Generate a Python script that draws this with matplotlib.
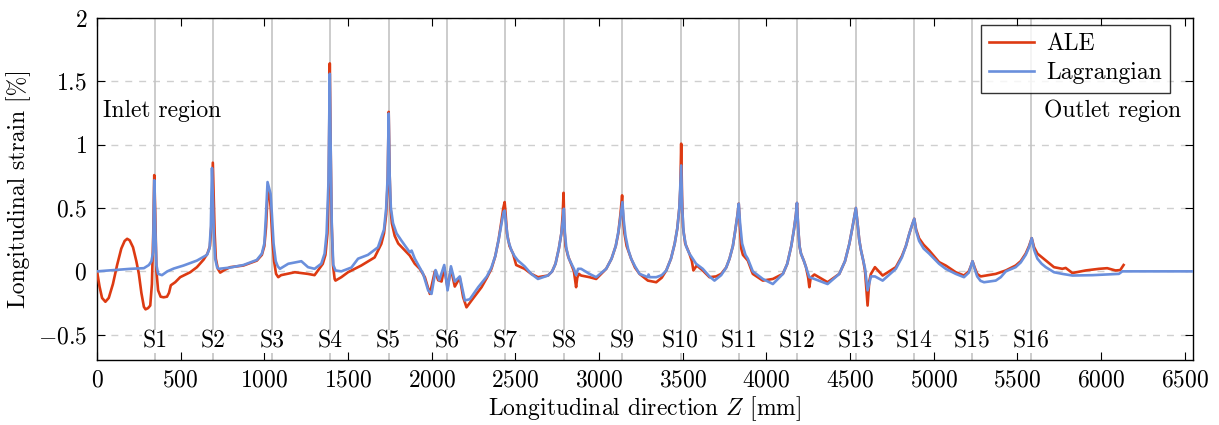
import matplotlib
matplotlib.use("Agg")
import matplotlib.pyplot as plt
from matplotlib.ticker import FuncFormatter, MultipleLocator

# ---------------- DATA ---------------- #
# ALE curve, grouped by support region
ale_z = [0, 15, 30, 50, 70, 95, 120, 145, 165, 180, 195, 215, 235, 250, 265, 280, 290, 305, 318, 328,
         336, 342, 348, 355, 365, 380, 398, 418, 430, 441,
         467, 497, 557, 597, 637, 660, 675, 685, 692, 697, 703, 710, 722, 736,
         760, 796, 875, 955, 985, 1000, 1010, 1017, 1021, 1030, 1038, 1048, 1058, 1070, 1083, 1100,
         1182, 1260, 1300, 1349, 1365, 1377, 1385, 1391, 1396, 1402, 1410, 1420, 1425, 1460, 1500,
         1579, 1659, 1699, 1715, 1728, 1737, 1743, 1748, 1754, 1762, 1779, 1800, 1829, 1869, 1899,
         1929, 1959, 1989,
         2019, 2039, 2059, 2075, 2095, 2115, 2138, 2168, 2188, 2208, 2238, 2298,
         2330, 2357, 2380, 2400, 2415, 2428, 2436, 2442, 2450, 2465, 2486, 2505, 2555, 2595, 2635, 2695,
         2720, 2740, 2760, 2775, 2783, 2788, 2793, 2800, 2815, 2833, 2850, 2858, 2863, 2870, 2880,
         2893, 2943, 2983, 3043,
         3075, 3100, 3115, 3128, 3138, 3145, 3152, 3165, 3192, 3215, 3242, 3270, 3292, 3342, 3375,
         3402, 3430, 3452, 3468, 3480, 3486, 3491, 3496, 3502, 3515, 3540, 3555, 3564, 3584, 3620,
         3660, 3700, 3730,
         3760, 3780, 3800, 3815, 3828, 3835, 3842, 3850, 3860, 3889, 3919, 3979, 4039, 4099,
         4125, 4149, 4165, 4177, 4183, 4190, 4198, 4207, 4225, 4237, 4250, 4257, 4265, 4287, 4366, 4436,
         4470, 4496, 4515, 4528, 4535, 4545, 4555, 4565, 4580, 4590, 4605, 4615, 4625, 4649, 4695, 4774,
         4810, 4834, 4855, 4872, 4884, 4895, 4913, 4940, 4973, 5032, 5072, 5132, 5181,
         5210, 5225, 5232, 5245, 5260, 5281, 5371, 5431, 5490, 5520, 5550, 5570, 5586, 5600, 5620,
         5670, 5719, 5769, 5789, 5829, 5908, 5988, 6037, 6087, 6115, 6135]
ale_strain = [0.0, -0.12, -0.21, -0.24, -0.21, -0.1, 0.05, 0.18, 0.24, 0.257, 0.245, 0.19, 0.08, -0.02,
              -0.17, -0.28, -0.3, -0.29, -0.27, -0.1, 0.3, 0.76, 0.45, 0.0, -0.15, -0.2, -0.205, -0.2,
              -0.17, -0.11,
              -0.086, -0.046, -0.007, 0.033, 0.093, 0.14, 0.2, 0.4, 0.858, 0.6, 0.3, 0.1, 0.02, -0.01,
              0.01, 0.033, 0.046, 0.085, 0.13, 0.2, 0.35, 0.55, 0.66, 0.62, 0.5, 0.25, 0.08, -0.02,
              -0.046, -0.03,
              -0.007, -0.02, -0.03, 0.059, 0.13, 0.3, 0.7, 1.642, 1.0, 0.4, 0.05, -0.06, -0.073, -0.046,
              -0.007,
              0.046, 0.11, 0.217, 0.3, 0.45, 0.7, 1.259, 0.8, 0.5, 0.38, 0.28, 0.22, 0.18, 0.125, 0.06,
              0.02, -0.046, -0.178,
              0.0, -0.07, -0.08, 0.03, -0.13, 0.02, -0.12, -0.05, -0.204, -0.284, -0.23, -0.125,
              -0.05, 0.02, 0.12, 0.25, 0.38, 0.5, 0.547, 0.45, 0.3, 0.2, 0.14, 0.05, 0.02, -0.02, -0.046,
              -0.033,
              0.0, 0.06, 0.18, 0.3, 0.45, 0.62, 0.35, 0.2, 0.12, 0.06, 0.0, -0.08, -0.125, -0.05, -0.02,
              -0.033, -0.046, -0.06, 0.02,
              0.1, 0.2, 0.3, 0.45, 0.6, 0.4, 0.3, 0.2, 0.1, 0.03, -0.02, -0.05, -0.073, -0.086, -0.05,
              0.007, 0.1, 0.217, 0.34, 0.5, 0.65, 1.008, 0.6, 0.35, 0.22, 0.14, 0.08, 0.007, 0.046,
              0.007, -0.046, -0.04, -0.02,
              0.03, 0.1, 0.2, 0.33, 0.45, 0.534, 0.35, 0.18, 0.13, 0.086, -0.02, -0.073, -0.06, -0.02,
              0.06, 0.2, 0.33, 0.45, 0.54, 0.35, 0.2, 0.14, 0.08, 0.033, -0.05, -0.125, -0.05, -0.025,
              -0.086, -0.02,
              0.08, 0.217, 0.35, 0.45, 0.5, 0.38, 0.25, 0.17, 0.08, 0.0, -0.27, -0.08, -0.02, 0.033,
              -0.033, 0.033,
              0.12, 0.2, 0.3, 0.37, 0.415, 0.33, 0.26, 0.21, 0.165, 0.073, 0.046, -0.007, -0.033,
              0.0, 0.05, 0.08, 0.03, -0.02, -0.04, -0.02, 0.007, 0.046, 0.08, 0.14, 0.2, 0.262, 0.19,
              0.14, 0.086, 0.033, 0.02, 0.027, -0.013, 0.007, 0.02, 0.025, 0.007, 0.01, 0.05]

# Lagrangian curve
lag_z = [0, 100, 200, 280, 310, 325, 335, 342, 348, 355, 365, 388, 420, 458, 517, 597, 657,
         672, 680, 687, 692, 698, 706, 718, 728, 796, 875, 955, 985,
         1000, 1010, 1019, 1028, 1037, 1045, 1055, 1068, 1080, 1093, 1143, 1221, 1261, 1300, 1340,
         1360, 1372, 1383, 1391, 1397, 1403, 1412, 1425, 1460, 1520, 1560, 1619, 1679,
         1715, 1728, 1737, 1743, 1749, 1756, 1769, 1790, 1819, 1869, 1880, 1899, 1949, 1979, 1999,
         2023, 2045, 2075, 2095, 2115, 2138, 2168, 2198, 2228, 2278, 2330,
         2357, 2380, 2400, 2418, 2430, 2436, 2444, 2456, 2475, 2495, 2515, 2555, 2595, 2635, 2695,
         2720, 2740, 2760, 2775, 2785, 2790, 2796, 2805, 2820, 2835, 2850, 2863, 2875, 2893, 2943,
         2983, 3043,
         3075, 3100, 3118, 3130, 3140, 3148, 3158, 3175, 3192, 3215, 3242, 3292, 3296, 3302, 3342, 3375,
         3402, 3430, 3452, 3468, 3480, 3491, 3497, 3506, 3520, 3540, 3580, 3620, 3660, 3690, 3730,
         3760, 3780, 3800, 3815, 3828, 3835, 3843, 3855, 3875, 3889, 3919, 3979, 4039, 4099,
         4125, 4149, 4165, 4177, 4183, 4190, 4198, 4207, 4225, 4237, 4257, 4287, 4366, 4436,
         4470, 4496, 4515, 4528, 4535, 4545, 4555, 4565, 4580, 4590, 4605, 4625, 4649, 4695, 4774,
         4810, 4834, 4855, 4872, 4884, 4895, 4913, 4940, 4973, 5032, 5072, 5132, 5181,
         5210, 5225, 5232, 5245, 5260, 5280, 5301, 5371, 5401, 5431, 5490, 5520, 5550, 5570, 5586,
         5600, 5620, 5645, 5670, 5719, 5769, 5829, 5950, 6107, 6127, 6300, 6550]
lag_strain = [0.0, 0.01, 0.02, 0.025, 0.05, 0.08, 0.15, 0.72, 0.35, 0.05, -0.02, -0.03, 0.0, 0.022,
              0.046, 0.085, 0.13,
              0.18, 0.35, 0.816, 0.6, 0.3, 0.1, 0.03, 0.02, 0.03, 0.05, 0.09, 0.14,
              0.22, 0.45, 0.705, 0.66, 0.613, 0.45, 0.22, 0.08, 0.04, 0.02, 0.06, 0.08, 0.033, 0.02,
              0.06,
              0.14, 0.3, 0.7, 1.56, 0.9, 0.35, 0.05, 0.007, 0.0, 0.03, 0.1, 0.13, 0.19,
              0.33, 0.5, 0.75, 1.246, 0.75, 0.5, 0.38, 0.3, 0.243, 0.15, 0.164, 0.1, -0.02, -0.15,
              -0.178,
              0.01, -0.07, 0.05, -0.15, 0.04, -0.08, -0.04, -0.23, -0.22, -0.125, -0.04,
              0.03, 0.12, 0.25, 0.38, 0.47, 0.48, 0.38, 0.25, 0.17, 0.12, 0.086, 0.04, -0.02, -0.06,
              -0.033,
              0.0, 0.06, 0.18, 0.3, 0.42, 0.494, 0.3, 0.18, 0.1, 0.06, 0.02, -0.03, 0.02, 0.02, -0.02,
              -0.046, 0.02,
              0.1, 0.2, 0.33, 0.45, 0.547, 0.4, 0.28, 0.17, 0.1, 0.04, -0.02, -0.046, -0.025, -0.046,
              -0.046, -0.03,
              0.007, 0.1, 0.217, 0.34, 0.5, 0.836, 0.5, 0.3, 0.2, 0.14, 0.06, 0.02, -0.04, -0.073, -0.03,
              0.03, 0.1, 0.2, 0.33, 0.45, 0.534, 0.38, 0.22, 0.13, 0.1, 0.0, -0.06, -0.1, -0.02,
              0.06, 0.2, 0.33, 0.45, 0.54, 0.35, 0.2, 0.14, 0.08, 0.033, -0.046, -0.06, -0.1, -0.02,
              0.08, 0.217, 0.35, 0.45, 0.5, 0.38, 0.25, 0.17, 0.08, 0.02, -0.15, -0.04, -0.04, -0.073,
              0.02,
              0.11, 0.2, 0.3, 0.37, 0.415, 0.32, 0.24, 0.18, 0.14, 0.06, 0.02, -0.02, -0.046,
              -0.01, 0.05, 0.08, 0.02, -0.04, -0.075, -0.086, -0.073, -0.046, 0.0, 0.033, 0.07, 0.13,
              0.19, 0.262, 0.17, 0.1, 0.06, 0.033, -0.007, -0.02, -0.033, -0.03, -0.02, 0.0, 0.0, 0.0]

# support positions
support_names = [f"S{i}" for i in range(1, 17)]
support_z = [346, 695, 1044, 1393, 1742, 2091, 2440, 2789, 3138, 3487, 3836, 4185, 4534, 4883,
             5232, 5581]

# ---------------- STYLE ---------------- #
ALE_COLOR = "#dd3a12"
LAG_COLOR = "#6a8fdc"
FS = 17

plt.rcParams['font.family'] = ['cmr10', 'DejaVu Serif']
plt.rcParams['mathtext.fontset'] = 'cm'
plt.rcParams['axes.unicode_minus'] = False

fig = plt.figure(figsize=(12.19, 4.25), dpi=100)
ax = fig.add_axes([0.0796, 0.1529, 0.8991, 0.8047])

ax.set_xlim(0, 6550)
ax.set_ylim(-0.7, 2)

# dashed horizontal grid
for yv in [-0.5, 0, 0.5, 1, 1.5, 2]:
    ax.axhline(yv, color="#cfcfcf", lw=1.0, ls=(0, (5, 5)), zorder=0)

# support lines and labels
for name, z in zip(support_names, support_z):
    ax.axvline(z, color="#c4c4c4", lw=1.2, zorder=1)
    ax.text(z, -0.555, name, ha='center', va='center', fontsize=FS,
            bbox=dict(facecolor='white', edgecolor='none', pad=0.5), zorder=2)

ax.plot(ale_z, ale_strain, color=ALE_COLOR, lw=1.9, label="ALE", zorder=3)
ax.plot(lag_z, lag_strain, color=LAG_COLOR, lw=1.9, label="Lagrangian", zorder=4)

ax.text(36, 1.264, "Inlet region", ha='left', va='center', fontsize=FS, zorder=5)
ax.text(6478, 1.264, "Outlet region", ha='right', va='center', fontsize=FS, zorder=5)

# ticks
ax.xaxis.set_major_locator(MultipleLocator(500))
ax.yaxis.set_major_locator(MultipleLocator(0.5))
ax.xaxis.set_major_formatter(FuncFormatter(lambda v, p: f"${v:g}$"))
ax.yaxis.set_major_formatter(FuncFormatter(lambda v, p: f"${v:g}$"))
ax.tick_params(direction='in', length=6, width=0.8, top=True, right=True, labelsize=FS, pad=7)
for sp in ax.spines.values():
    sp.set_linewidth(1.0)

ax.set_xlabel(r"Longitudinal direction $Z$ [mm]", fontsize=FS, labelpad=2)
ax.set_ylabel("Longitudinal strain [%]", fontsize=FS, labelpad=5)

leg = ax.legend(loc='upper right', bbox_to_anchor=(0.979, 0.98), borderaxespad=0,
                fontsize=FS, frameon=True, fancybox=False, handlelength=1.9,
                borderpad=0.35, labelspacing=0.3, handletextpad=0.5)
leg.get_frame().set_edgecolor('black')
leg.get_frame().set_linewidth(1.0)
leg.set_zorder(10)

fig.savefig("out.png", dpi=100)
